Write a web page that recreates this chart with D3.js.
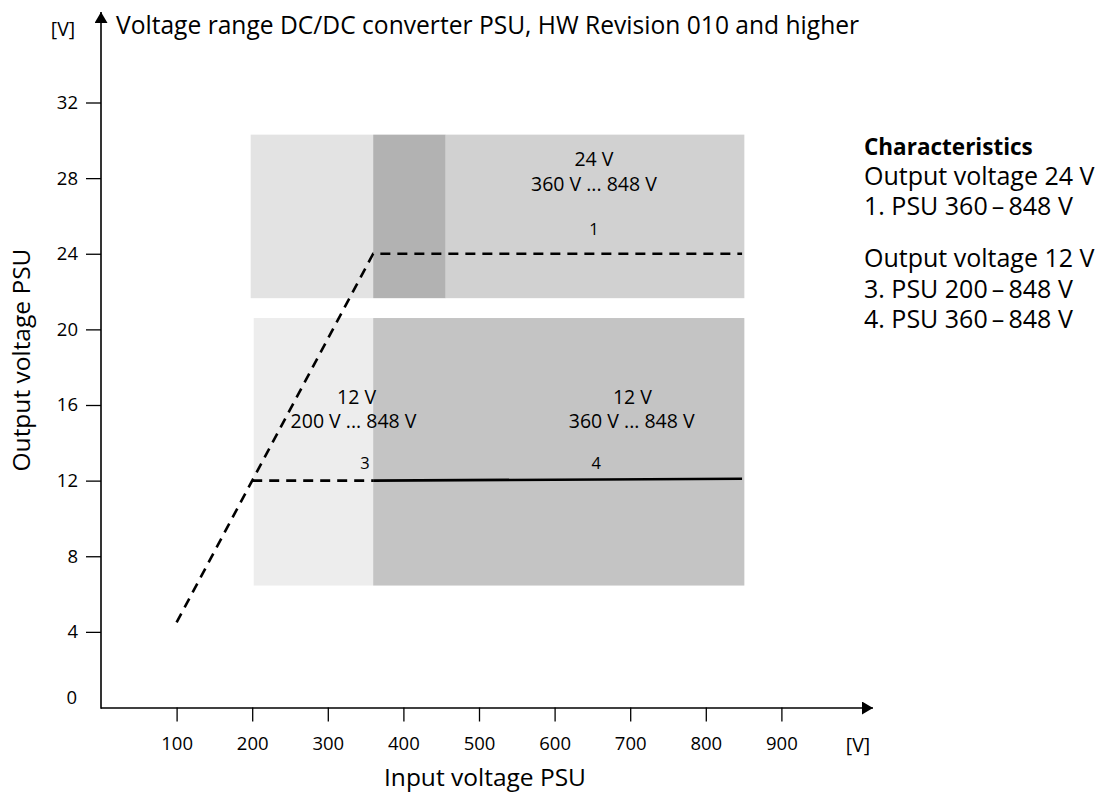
<!DOCTYPE html>
<html>
<head>
<meta charset="utf-8">
<script src="https://cdn.jsdelivr.net/npm/d3@7"></script>
<style>
  html, body { margin: 0; padding: 0; background: #fff; }
  svg { display: block; font-family: "Open Sans", "Noto Sans", sans-serif; }
</style>
</head>
<body>
<svg id="chart" width="1099" height="796"></svg>
<script>
// ---- data ----
const titleText = "Voltage range DC/DC converter PSU, HW Revision 010 and higher";
const xTicks = [100, 200, 300, 400, 500, 600, 700, 800, 900];
const yTicks = [4, 8, 12, 16, 20, 24, 28, 32];
const unitLabel = "[V]";
const xTitle = "Input voltage PSU";
const yTitle = "Output voltage PSU";

// shaded ranges: [x0, x1] in V, matching [y0, y1] in V, shade
const bandX = [[198, 360], [360, 456], [456, 851], [202, 360], [360, 851]];
const bandY = [[21.65, 30.3], [21.65, 30.3], [21.65, 30.3], [6.45, 20.6], [6.45, 20.6]];
const bandFill = ["#e3e3e3", "#b2b2b2", "#d1d1d1", "#ededed", "#c4c4c4"];

// characteristic lines
const line1 = [[100, 4.5], [360, 24], [848, 24]];   // ramp + 24 V (dashed)
const line3 = [[200, 12], [360, 12]];               // 12 V from 200 V (dashed)
const line4 = [[360, 12], [848, 12.1]];             // 12 V from 360 V (solid)

// labels inside the chart: [x value, y value, text, size]
const rangeLabels = [
  [652, 28.65, "24 V", 19.5],
  [652, 27.3, "360 V ... 848 V", 19.5],
  [652, 25.0, "1", 16.5],
  [338, 16.05, "12 V", 19.5],
  [334, 14.8, "200 V ... 848 V", 19.5],
  [703, 16.05, "12 V", 19.5],
  [702, 14.8, "360 V ... 848 V", 19.5],
  [349, 12.6, "3", 16.5],
  [655, 12.6, "4", 16.5]
];

const legendTitle = "Characteristics";
const legendLines = ["Output voltage 24 V", "1. PSU 360\u2009\u2013\u2009848 V", "",
                     "Output voltage 12 V", "3. PSU 200\u2009\u2013\u2009848 V", "4. PSU 360\u2009\u2013\u2009848 V"];

// ---- drawing ----
const svg = d3.select("#chart");
const x = d3.scaleLinear().domain([0, 1000]).range([101, 857]);
const y = d3.scaleLinear().domain([0, 32]).range([707.5, 102.5]);
const x0 = x(0), y0 = y(0);

// bands
svg.append("g").selectAll("rect").data(bandX).join("rect")
  .attr("x", d => x(d[0]))
  .attr("width", d => x(d[1]) - x(d[0]))
  .attr("y", (d, i) => y(bandY[i][1]))
  .attr("height", (d, i) => y(bandY[i][0]) - y(bandY[i][1]))
  .attr("fill", (d, i) => bandFill[i]);

// axes
const defs = svg.append("defs");
defs.append("marker").attr("id", "arrow").attr("viewBox", "0 0 10 10")
  .attr("refX", 10).attr("refY", 5).attr("markerWidth", 11).attr("markerHeight", 13)
  .attr("markerUnits", "userSpaceOnUse").attr("orient", "auto")
  .attr("preserveAspectRatio", "none")
  .append("path").attr("d", "M0,0 L10,5 L0,10 Z").attr("fill", "#000");

svg.append("line").attr("x1", x0).attr("y1", y0 + 0.5).attr("x2", 873).attr("y2", y0 + 0.5)
  .attr("stroke", "#000").attr("stroke-width", 1.6).attr("marker-end", "url(#arrow)");
svg.append("line").attr("x1", x0).attr("y1", y0 + 1.3).attr("x2", x0).attr("y2", 12)
  .attr("stroke", "#000").attr("stroke-width", 1.6).attr("marker-end", "url(#arrow)");

const xAxis = svg.append("g").attr("transform", `translate(0,${y0})`)
  .call(d3.axisBottom(x).tickValues(xTicks).tickSize(14).tickPadding(15).tickFormat(d3.format("d")));
const yAxis = svg.append("g").attr("transform", `translate(${x0},0)`)
  .call(d3.axisLeft(y).tickValues(yTicks).tickSize(15).tickPadding(8).tickFormat(d3.format("d")));
[xAxis, yAxis].forEach(g => {
  g.select(".domain").remove();
  g.selectAll(".tick line").attr("stroke", "#000").attr("stroke-width", 1.3);
  g.selectAll(".tick text").attr("fill", "#000").style("font-size", "18.5px")
    .style("font-family", "'Open Sans', sans-serif");
});

// zero label and unit labels
svg.append("text").attr("x", 77).attr("y", 704).attr("text-anchor", "end")
  .style("font-size", "18.5px").text("0");
svg.append("text").attr("x", 858).attr("y", 752).attr("text-anchor", "middle")
  .style("font-size", "19.5px").text(unitLabel);
svg.append("text").attr("x", 63).attr("y", 36).attr("text-anchor", "middle")
  .style("font-size", "19.5px").text(unitLabel);

// titles
svg.append("text").attr("x", 116).attr("y", 34).style("font-size", "24.6px").text(titleText);
svg.append("text").attr("x", 485).attr("y", 786).attr("text-anchor", "middle")
  .style("font-size", "24.5px").text(xTitle);
svg.append("text").attr("transform", `translate(30,360) rotate(-90)`).attr("text-anchor", "middle")
  .style("font-size", "24.5px").text(yTitle);

// lines
const lineGen = d3.line().x(d => x(d[0])).y(d => y(d[1]));
svg.append("path").datum(line1).attr("d", lineGen).attr("fill", "none")
  .attr("stroke", "#000").attr("stroke-width", 2.6).attr("stroke-dasharray", "10,7");
svg.append("path").datum(line3).attr("d", lineGen).attr("fill", "none")
  .attr("stroke", "#000").attr("stroke-width", 2.6).attr("stroke-dasharray", "10,7");
svg.append("path").datum(line4).attr("d", lineGen).attr("fill", "none")
  .attr("stroke", "#000").attr("stroke-width", 2.6);

// range labels
svg.append("g").selectAll("text").data(rangeLabels).join("text")
  .attr("x", d => x(d[0])).attr("y", d => y(d[1]))
  .attr("text-anchor", "middle").style("font-size", d => d[3] + "px").text(d => d[2]);

// legend
svg.append("text").attr("x", 864).attr("y", 155).style("font-size", "22.5px")
  .style("font-weight", "bold").text(legendTitle);
const legendY = [185, 215, 0, 267, 298, 328];
svg.append("g").selectAll("text").data(legendLines).join("text")
  .attr("x", 864).attr("y", (d, i) => legendY[i])
  .style("font-size", "25px").text(d => d);
</script>
</body>
</html>
